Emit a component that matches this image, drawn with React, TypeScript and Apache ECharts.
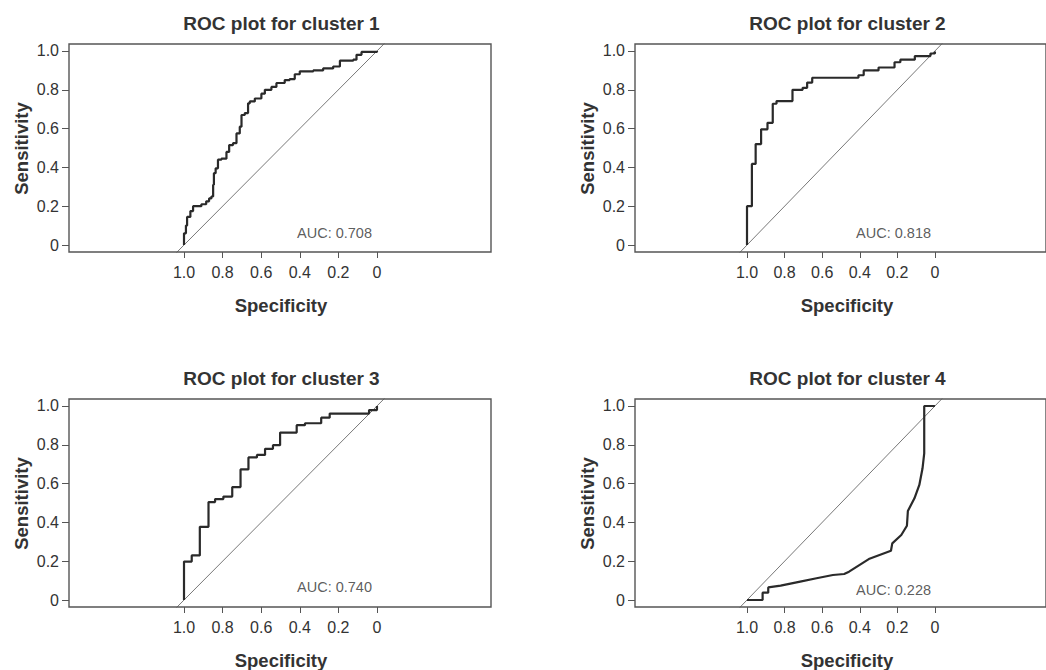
import React, { useEffect, useRef } from "react";
import * as echarts from "echarts";

// ---- data ----
const panelTitles = [
  "ROC plot for cluster 1",
  "ROC plot for cluster 2",
  "ROC plot for cluster 3",
  "ROC plot for cluster 4",
];
const aucLabels = ["AUC: 0.708", "AUC: 0.818", "AUC: 0.740", "AUC: 0.228"];
const aucAnchor: [number, number][] = [
  [0.22, 0.063],
  [0.22, 0.063],
  [0.22, 0.069],
  [0.22, 0.052],
];
const tickValues = [0, 0.2, 0.4, 0.6, 0.8, 1.0];
const xAxisName = "Specificity";
const yAxisName = "Sensitivity";

// (specificity, sensitivity): at each specificity the curve rises to the given sensitivity
const roc1: [number, number][] = [
  [1.0, 0], [1.0, 0.06], [0.99, 0.1], [0.984, 0.145], [0.967, 0.175], [0.953, 0.2],
  [0.91, 0.21], [0.885, 0.225], [0.87, 0.24], [0.858, 0.25], [0.849, 0.31],
  [0.845, 0.37], [0.836, 0.395], [0.824, 0.44], [0.806, 0.445], [0.78, 0.48],
  [0.766, 0.515], [0.746, 0.525], [0.728, 0.575], [0.711, 0.61], [0.702, 0.67],
  [0.685, 0.68], [0.668, 0.73], [0.659, 0.74], [0.633, 0.755], [0.599, 0.78],
  [0.581, 0.8], [0.547, 0.815], [0.521, 0.835], [0.478, 0.85], [0.452, 0.855],
  [0.426, 0.88], [0.4, 0.895], [0.33, 0.9], [0.279, 0.91], [0.227, 0.92],
  [0.192, 0.95], [0.123, 0.955], [0.106, 0.98], [0.08, 0.995], [0.0, 1.0],
];
const roc2: [number, number][] = [
  [1.0, 0], [1.0, 0.2], [0.974, 0.418], [0.954, 0.52], [0.925, 0.596], [0.891, 0.63],
  [0.863, 0.728], [0.843, 0.742], [0.758, 0.8], [0.704, 0.81], [0.68, 0.837],
  [0.653, 0.862], [0.407, 0.875], [0.379, 0.9], [0.3, 0.915], [0.215, 0.942],
  [0.184, 0.955], [0.107, 0.974], [0.024, 0.987], [0.0, 0.997],
];
const roc3: [number, number][] = [
  [1.0, 0], [1.0, 0.198], [0.96, 0.23], [0.918, 0.377], [0.873, 0.505], [0.839, 0.52],
  [0.796, 0.533], [0.75, 0.582], [0.707, 0.673], [0.666, 0.735], [0.622, 0.748],
  [0.58, 0.779], [0.539, 0.798], [0.502, 0.863], [0.416, 0.901], [0.373, 0.911],
  [0.289, 0.94], [0.245, 0.961], [0.041, 0.979], [0.0, 1.0],
];
// cluster 4 is drawn point to point (it has sloped segments)
const roc4: [number, number][] = [
  [1.0, 0], [0.917, 0], [0.917, 0.038], [0.887, 0.038], [0.887, 0.065], [0.821, 0.074],
  [0.717, 0.095], [0.63, 0.112], [0.543, 0.129], [0.483, 0.134], [0.457, 0.146],
  [0.352, 0.211], [0.234, 0.254], [0.227, 0.292], [0.179, 0.335], [0.149, 0.383],
  [0.144, 0.459], [0.109, 0.524], [0.083, 0.593], [0.066, 0.679], [0.057, 0.756],
  [0.057, 1.0], [0.0, 1.0],
];
const rocCurves = [roc1, roc2, roc3, roc4];
const rocStep: (string | false)[] = ["end", "end", "end", false];
// chance line: sensitivity = 1 - specificity
const chanceLine: [number, number][] = [[1.1, -0.1], [-0.1, 1.1]];

// ---- layout ----
const FONT = "'Liberation Sans', Arial, Helvetica, sans-serif";
const gridLeft = [69, 635, 69, 635];
const gridTop = [44, 44, 399, 399];
const gridW = 422;
const gridH = 208;
const xRange = { min: -0.591, max: 1.596 };
const yRange = { min: -0.036, max: 1.036 };
const INK = "#333333";
const FRAME = "#555555";

function fmt(v: number) {
  return v === 0 ? "0" : v.toFixed(1);
}

export default function App() {
  const ref = useRef<HTMLDivElement>(null);
  useEffect(() => {
    if (!ref.current) return;
    const chart = echarts.init(ref.current, null, { renderer: "svg" });

    const grids: any[] = [];
    const xAxes: any[] = [];
    const yAxes: any[] = [];
    const series: any[] = [];
    const graphics: any[] = [];

    for (let i = 0; i < 4; i++) {
      grids.push({
        left: gridLeft[i],
        top: gridTop[i],
        width: gridW,
        height: gridH,
        show: true,
        borderColor: FRAME,
        borderWidth: 1.4,
        backgroundColor: "transparent",
        containLabel: false,
      });
      xAxes.push({
        type: "value",
        gridIndex: i,
        position: "bottom",
        inverse: true,
        min: xRange.min,
        max: xRange.max,
        splitLine: { show: false },
        axisLine: { show: false, onZero: false },
        axisTick: {
          show: true,
          length: 6,
          customValues: tickValues,
          lineStyle: { color: FRAME, width: 1 },
        },
        axisLabel: {
          show: true,
          customValues: tickValues,
          formatter: fmt,
          margin: 12,
          color: INK,
          fontSize: 16,
          fontFamily: FONT,
        },
      });
      yAxes.push({
        type: "value",
        gridIndex: i,
        position: "left",
        min: yRange.min,
        max: yRange.max,
        splitLine: { show: false },
        axisLine: { show: false, onZero: false },
        axisTick: {
          show: true,
          length: 7,
          customValues: tickValues,
          lineStyle: { color: FRAME, width: 1 },
        },
        axisLabel: {
          show: true,
          customValues: tickValues,
          formatter: fmt,
          margin: 10,
          color: INK,
          fontSize: 16,
          fontFamily: FONT,
        },
      });
      series.push({
        type: "line",
        xAxisIndex: i,
        yAxisIndex: i,
        data: chanceLine,
        showSymbol: false,
        symbol: "none",
        clip: true,
        silent: true,
        lineStyle: { color: "#555", width: 0.8 },
        z: 2,
      });
      series.push({
        type: "line",
        xAxisIndex: i,
        yAxisIndex: i,
        data: rocCurves[i],
        step: rocStep[i],
        showSymbol: false,
        symbol: "none",
        clip: true,
        silent: true,
        lineStyle: { color: "#2a2a2a", width: 2.2 },
        z: 3,
      });
      series.push({
        type: "scatter",
        xAxisIndex: i,
        yAxisIndex: i,
        data: [aucAnchor[i]],
        symbolSize: 0,
        silent: true,
        label: {
          show: true,
          position: "inside",
          formatter: aucLabels[i],
          color: INK,
          fontSize: 14.5,
          fontFamily: FONT,
        },
      });

      const cx = gridLeft[i] + 212.5;
      graphics.push({
        type: "text",
        x: cx,
        y: gridTop[i] - 20.5,
        style: {
          text: panelTitles[i],
          align: "center",
          verticalAlign: "middle",
          font: `bold 19px ${FONT}`,
          fill: INK,
        },
      });
      graphics.push({
        type: "text",
        x: cx - 0.5,
        y: gridTop[i] + 261,
        style: {
          text: xAxisName,
          align: "center",
          verticalAlign: "middle",
          font: `bold 18.5px ${FONT}`,
          fill: INK,
        },
      });
      graphics.push({
        type: "text",
        x: gridLeft[i] - 48,
        y: gridTop[i] + 104.5,
        rotation: Math.PI / 2,
        style: {
          text: yAxisName,
          align: "center",
          verticalAlign: "middle",
          font: `bold 18.5px ${FONT}`,
          fill: INK,
        },
      });
    }

    chart.setOption({
      animation: false,
      backgroundColor: "#ffffff",
      grid: grids,
      xAxis: xAxes,
      yAxis: yAxes,
      series,
      graphic: graphics,
    });
    return () => chart.dispose();
  }, []);

  return (
    <div
      ref={ref}
      style={{ position: "fixed", left: 0, top: 0, width: 1046, height: 670 }}
    />
  );
}
